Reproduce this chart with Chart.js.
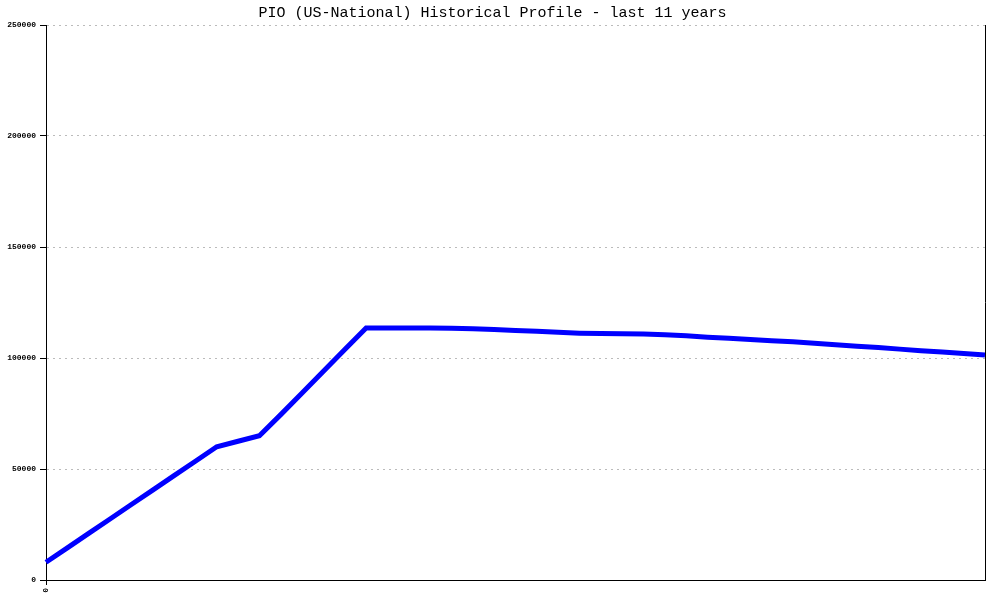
<!DOCTYPE html>
<html>
<head>
<meta charset="utf-8">
<script src="https://cdn.jsdelivr.net/npm/chart.js@4/dist/chart.umd.min.js"></script>
<style>
  html, body { margin: 0; padding: 0; background: #ffffff; }
  #wrap { width: 1000px; height: 600px; }
</style>
</head>
<body>
<div id="wrap"><canvas id="c" width="1000" height="600"></canvas></div>
<script>
// Quarterly samples over the last 11 years (45 points); only the first is labelled.
const categories = ["0", "", "", "", "", "", "", "", "", "", "", "", "", "", "", "",
  "", "", "", "", "", "", "", "", "", "", "", "", "", "", "", "", "", "", "", "", "",
  "", "", "", "", "", "", "", ""];
const pioValues = [8000, 14500, 21000, 27500, 34000, 40500, 47000, 53500, 60000,
  62500, 65000, 74500, 84200, 94000, 103800, 113500,
  113500, 113500, 113500, 113400, 113200, 112800, 112400, 112000, 111600, 111200,
  111000, 110900, 110800, 110500, 110000, 109400, 108900, 108300, 107800, 107300,
  106600, 106000, 105300, 104700, 104000, 103300, 102700, 102000, 101300];
const yTicks = [0, 50000, 100000, 150000, 200000, 250000];

const rightBorder = {
  id: 'rightBorder',
  afterDraw(chart) {
    const a = chart.chartArea, ctx = chart.ctx;
    ctx.save();
    ctx.strokeStyle = '#000000';
    ctx.lineWidth = 1;
    ctx.beginPath();
    ctx.moveTo(Math.round(a.right) + 0.5, a.top);
    ctx.lineTo(Math.round(a.right) + 0.5, a.bottom);
    ctx.stroke();
    ctx.restore();
  }
};

new Chart(document.getElementById('c'), {
  type: 'line',
  data: {
    labels: categories,
    datasets: [{
      label: 'PIO',
      data: pioValues,
      borderColor: '#0000ff',
      backgroundColor: '#0000ff',
      borderWidth: 5,
      pointRadius: 0,
      tension: 0,
      fill: false
    }]
  },
  options: {
    responsive: false,
    animation: false,
    layout: { padding: { left: 0, right: 15, top: 0, bottom: 0 } },
    plugins: {
      legend: { display: false },
      tooltip: { enabled: false },
      title: {
        display: true,
        text: 'PIO (US-National) Historical Profile - last 11 years',
        color: '#000000',
        font: { family: '"Liberation Mono", "DejaVu Sans Mono", monospace', size: 15, weight: 'normal' },
        padding: { top: 4, bottom: 3 }
      }
    },
    scales: {
      x: {
        type: 'category',
        offset: false,
        grid: {
          display: true,
          drawOnChartArea: false,
          drawTicks: true,
          tickLength: 5,
          tickColor: (ctx) => ctx.index === 0 ? '#000000' : 'rgba(0,0,0,0)'
        },
        border: { display: true, color: '#000000', width: 1 },
        ticks: {
          autoSkip: false,
          maxRotation: 90,
          minRotation: 90,
          padding: 3,
          color: '#000000',
          font: { family: '"Liberation Mono", "DejaVu Sans Mono", monospace', size: 8, weight: 'bold' }
        },
        afterFit(scale) { scale.height = 20; }
      },
      y: {
        min: 0,
        max: 250000,
        afterBuildTicks(scale) { scale.ticks = yTicks.map(v => ({ value: v })); },
        grid: {
          color: '#bbbbbb',
          lineWidth: 1,
          tickColor: '#000000',
          tickLength: 6
        },
        border: { display: true, color: '#000000', width: 1, dash: [2, 4] },
        ticks: {
          color: '#000000',
          padding: 4,
          font: { family: '"Liberation Mono", "DejaVu Sans Mono", monospace', size: 8, weight: 'bold' },
          callback: (v) => String(v)
        },
        afterFit(scale) { scale.width = 46; }
      }
    }
  },
  plugins: [rightBorder]
});
</script>
</body>
</html>
